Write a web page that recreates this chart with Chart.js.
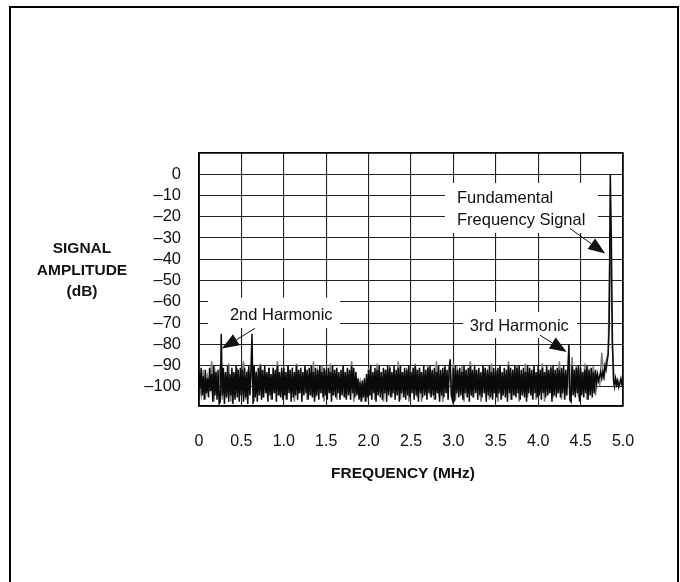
<!DOCTYPE html>
<html>
<head>
<meta charset="utf-8">
<script src="https://cdn.jsdelivr.net/npm/chart.js@4.4.0/dist/chart.umd.min.js"></script>
<style>
  html, body { margin: 0; padding: 0; background: #fff; }
  canvas { display: block; }
</style>
</head>
<body>
<canvas id="fftChart" width="680" height="582"></canvas>
<script>
// FFT spectrum of the sampled sine, 0 to 5 MHz
const binStepBlack = 0.0125;  // MHz between samples, black trace
const binStepGray = 0.025;    // MHz between samples, gray trace

// black trace, dB
const blackDb = [
  -93,-101,-91,-104,-95,-106,-92,-103,-96,-105,-91,-102,-94,-107,-90,-104,-93,-106,-92,-108,
  -107,-75,-104,-91,-108,-93,-105,-90,-107,-94,-104,-91,-108,-93,-106,-90,-105,-92,-107,-91,
  -104,-92,-107,-91,-105,-93,-108,-90,-104,-92,-75,-108,-90,-105,-93,-107,-91,-104,-90,-106,
  -92,-105,-90,-103,-93,-107,-91,-104,-94,-106,-91,-103,-92,-107,-90,-104,-93,-105,-91,-106,
  -91,-104,-93,-106,-90,-103,-92,-107,-91,-105,-93,-104,-90,-106,-92,-103,-91,-107,-93,-104,
  -90,-103,-92,-106,-91,-104,-90,-105,-93,-107,-91,-104,-92,-106,-90,-103,-93,-105,-91,-104,
  -92,-106,-91,-103,-93,-107,-90,-104,-92,-105,-91,-103,-93,-106,-92,-104,-90,-105,-93,-106,
  -91,-104,-92,-106,-90,-103,-91,-105,-93,-104,-96,-106,-98,-107,-97,-105,-96,-107,-94,-105,
  -92,-104,-90,-106,-93,-103,-91,-107,-92,-104,-90,-105,-93,-106,-91,-103,-92,-107,-90,-104,
  -91,-105,-93,-103,-90,-106,-92,-104,-91,-107,-90,-103,-93,-105,-91,-106,-92,-104,-90,-105,
  -93,-103,-91,-106,-90,-104,-92,-107,-91,-103,-93,-105,-90,-104,-92,-106,-91,-103,-90,-105,
  -92,-104,-91,-106,-93,-103,-90,-107,-92,-104,-91,-105,-90,-103,-92,-106,-91,-87,-104,-106,
  -91,-107,-90,-103,-92,-105,-91,-104,-93,-106,-90,-103,-92,-105,-91,-107,-90,-104,-92,-105,
  -90,-103,-92,-106,-91,-104,-93,-105,-90,-103,-91,-107,-92,-104,-90,-105,-93,-106,-91,-103,
  -92,-105,-91,-103,-90,-106,-93,-104,-91,-105,-92,-107,-90,-103,-91,-106,-92,-104,-90,-105,
  -91,-103,-90,-106,-92,-104,-91,-105,-93,-107,-90,-103,-91,-104,-92,-106,-90,-103,-93,-105,
  -90,-104,-92,-106,-91,-103,-93,-105,-90,-104,-92,-103,-91,-107,-90,-104,-92,-105,-91,-103,
  -92,-105,-91,-103,-90,-106,-92,-104,-91,-80,-106,-107,-90,-104,-92,-105,-91,-103,-90,-107,
  -91,-104,-93,-105,-92,-103,-90,-106,-92,-104,-91,-105,-93,-103,-92,-98,-94,-97,-95,-93,
  -96,-93,-95,-90,-92,-88,-85,-70,0,-30,-78,-97,-100,-96,-99,-97,-100,-98,-96,-99,
  -98
];

// gray (overlaid) trace, dB
const grayDb = [
  -97,-104,-92,-106,-95,-100,-88,-107,-94,-102,-90,-106,-96,-103,-89,-107,-93,-101,-91,-105,
  -95,-88,-106,-92,-103,-90,-107,-94,-100,-89,-105,-96,-102,-91,-106,-93,-100,-88,-104,-95,
  -92,-106,-90,-101,-95,-107,-89,-103,-94,-100,-91,-106,-96,-102,-88,-105,-93,-101,-90,-107,
  -94,-100,-89,-104,-92,-106,-96,-101,-90,-105,-93,-103,-88,-107,-95,-100,-97,-105,-99,-107,
  -91,-104,-94,-106,-89,-101,-96,-107,-92,-103,-90,-105,-95,-100,-88,-106,-93,-102,-91,-107,
  -94,-101,-89,-105,-92,-107,-96,-100,-90,-104,-93,-106,-88,-102,-95,-107,-91,-103,-94,-100,
  -89,-106,-93,-101,-90,-107,-95,-103,-88,-105,-92,-100,-96,-107,-90,-102,-94,-106,-89,-101,
  -93,-107,-91,-103,-95,-100,-88,-106,-92,-104,-90,-107,-96,-101,-89,-105,-93,-102,-91,-106,
  -94,-100,-89,-107,-92,-103,-90,-105,-95,-101,-88,-106,-93,-102,-91,-107,-86,-103,-90,-105,
  -92,-101,-89,-106,-93,-100,-90,-104,-96,-99,-84,-97,-88,-84,-27,-82,-99,-97,-100,-98,
  -99
];

const xTickValues = [0, 0.5, 1, 1.5, 2, 2.5, 3, 3.5, 4, 4.5, 5];
const xTickLabels = ['0', '0.5', '1.0', '1.5', '2.0', '2.5', '3.0', '3.5', '4.0', '4.5', '5.0'];
const yTickValues = [-100, -90, -80, -70, -60, -50, -40, -30, -20, -10, 0, 10];
const yTickLabels = ['–100', '–90', '–80', '–70', '–60', '–50', '–40', '–30', '–20', '–10', '0', ''];
const yTitleLines = ['SIGNAL', 'AMPLITUDE', '(dB)'];
const xTitle = 'FREQUENCY (MHz)';

// callouts, in axis units (MHz, dB)
const notes = [
  { lines: ['2nd Harmonic'], at: [0.97, -66.5], align: 'center',
    box: [0.106, -58, 1.663, -72.3], from: [0.66, -72.5], tip: [0.27, -82] },
  { lines: ['Fundamental', 'Frequency Signal'], at: [3.042, -11.3], align: 'left',
    box: [2.90, -4.1, 4.705, -27.6], from: [4.375, -25.5], tip: [4.79, -37.3] },
  { lines: ['3rd Harmonic'], at: [3.777, -71.7], align: 'center',
    box: [3.113, -64.8, 4.458, -77], from: [4.021, -75.7], tip: [4.336, -83.6] }
];

const FONT = '"Liberation Sans", Arial, Helvetica, sans-serif';
Chart.defaults.font.family = FONT;

function drawArrow(c, x0, y0, x1, y1) {
    const a = Math.atan2(y1 - y0, x1 - x0);
    const len = 17, half = 6.5;
    const bx = x1 - len * Math.cos(a), by = y1 - len * Math.sin(a);
    c.beginPath();
    c.moveTo(x0, y0);
    c.lineTo(bx, by);
    c.stroke();
    c.beginPath();
    c.moveTo(x1, y1);
    c.lineTo(bx + half * Math.sin(a), by - half * Math.cos(a));
    c.lineTo(bx - half * Math.sin(a), by + half * Math.cos(a));
    c.closePath();
    c.fill();
}

const decorPlugin = {
    id: 'decor',
    beforeDraw(chart) {
        const c = chart.ctx;
        c.save();
        c.fillStyle = '#fff';
        c.fillRect(0, 0, chart.width, chart.height);
        c.strokeStyle = '#000';
        c.lineWidth = 2;
        c.strokeRect(10, 7, 668, 620);
        c.restore();
    },
    beforeDatasetsDraw(chart) {
        // white boxes knock the grid out behind the callout text
        const { ctx: c, scales: { x, y } } = chart;
        c.save();
        c.fillStyle = '#fff';
        notes.forEach(n => {
            const x0 = x.getPixelForValue(n.box[0]), y0 = y.getPixelForValue(n.box[1]);
            const x1 = x.getPixelForValue(n.box[2]), y1 = y.getPixelForValue(n.box[3]);
            c.fillRect(x0, y0, x1 - x0, y1 - y0);
        });
        c.restore();
    },
    afterDatasetsDraw(chart) {
        const { ctx: c, chartArea: a, scales: { x, y } } = chart;
        c.save();
        c.strokeStyle = '#000';
        c.lineWidth = 1.5;
        c.strokeRect(a.left, a.top, a.right - a.left, a.bottom - a.top);

        c.fillStyle = '#111';
        c.strokeStyle = '#111';
        c.lineWidth = 1;
        c.font = '16.5px ' + FONT;
        c.textBaseline = 'middle';
        notes.forEach(n => {
            c.textAlign = n.align;
            const tx = x.getPixelForValue(n.at[0]), ty = y.getPixelForValue(n.at[1]);
            n.lines.forEach((t, i) => c.fillText(t, tx, ty + i * 21.7));
            drawArrow(c, x.getPixelForValue(n.from[0]), y.getPixelForValue(n.from[1]),
                x.getPixelForValue(n.tip[0]), y.getPixelForValue(n.tip[1]));
        });
        c.restore();
    },
    afterDraw(chart) {
        const c = chart.ctx;
        c.save();
        c.fillStyle = '#111';
        c.font = 'bold 15.5px ' + FONT;
        c.textAlign = 'center';
        c.textBaseline = 'middle';
        yTitleLines.forEach((t, i) => c.fillText(t, 82, 249 + i * 21.3));
        c.fillText(xTitle, 403, 474);
        c.restore();
    }
};

const ctx = document.getElementById('fftChart').getContext('2d');

const fftChart = new Chart(ctx, {
    type: 'line',
    data: {
        datasets: [
            {
                label: 'FFT',
                data: blackDb.map((v, i) => ({ x: i * binStepBlack, y: v })),
                borderColor: '#0a0a0a',
                borderWidth: 1.5,
                pointRadius: 0,
                tension: 0,
                order: 0
            },
            {
                label: 'FFT (overlay)',
                data: grayDb.map((v, i) => ({ x: i * binStepGray, y: v })),
                borderColor: '#7c7c7c',
                borderWidth: 1.5,
                pointRadius: 0,
                tension: 0,
                order: 1
            }
        ]
    },
    options: {
        responsive: false,
        animation: false,
        devicePixelRatio: 1,
        layout: { padding: { left: 0, right: 57, top: 153, bottom: 126 } },
        plugins: {
            legend: { display: false },
            tooltip: { enabled: false }
        },
        scales: {
            x: {
                type: 'linear',
                min: 0,
                max: 5,
                afterBuildTicks: s => { s.ticks = xTickValues.map(v => ({ value: v })); },
                afterFit: s => { s.height = 50; },
                ticks: {
                    callback: v => xTickLabels[xTickValues.indexOf(v)],
                    padding: 26,
                    color: '#111',
                    font: { size: 16 },
                    maxRotation: 0,
                    autoSkip: false
                },
                grid: { color: '#222', lineWidth: 1.1, drawTicks: false },
                border: { color: '#000', width: 1.5 }
            },
            y: {
                type: 'linear',
                min: -109,
                max: 10,
                afterBuildTicks: s => { s.ticks = yTickValues.map(v => ({ value: v })); },
                afterFit: s => { s.width = 199; },
                ticks: {
                    callback: v => yTickLabels[yTickValues.indexOf(v)],
                    padding: 18,
                    color: '#111',
                    font: { size: 16.5 }
                },
                grid: { color: '#222', lineWidth: 1.1, drawTicks: false },
                border: { color: '#000', width: 1.5 }
            }
        }
    },
    plugins: [decorPlugin]
});
</script>
</body>
</html>
